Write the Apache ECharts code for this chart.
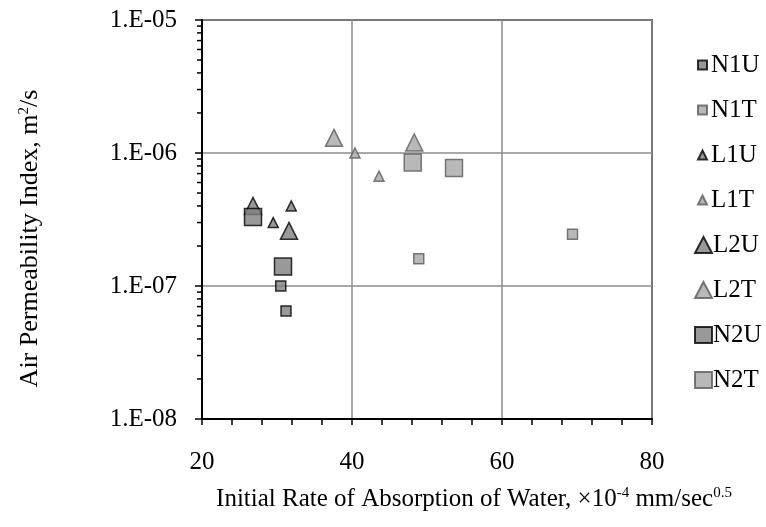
<!DOCTYPE html>
<html lang="en">
<head>
<meta charset="UTF-8">
<title>Air Permeability vs Absorption</title>
<script src="https://cdn.jsdelivr.net/npm/echarts@6/dist/echarts.min.js"></script>
<style>
  html, body { margin: 0; padding: 0; background: #fff; }
  #cc { width: 766px; height: 527px; }
</style>
</head>
<body>
<div id="cc"></div>
<script>
// data: [absorption, permeability]
var N1U = [[30.5, 1.0e-7], [31.2, 6.5e-8]];
var N1T = [[48.9, 1.6e-7], [69.4, 2.45e-7]];
var L1U = [[29.5, 3.0e-7], [31.9, 4.0e-7]];
var L1T = [[40.4, 1.0e-6], [43.6, 6.7e-7]];
var L2U = [[26.8, 4.0e-7], [31.6, 2.6e-7]];
var L2T = [[37.6, 1.3e-6], [48.3, 1.2e-6]];
var N2U = [[26.8, 3.3e-7], [30.8, 1.4e-7]];
var N2T = [[48.1, 8.5e-7], [53.6, 7.7e-7]];

var xTicks = [20, 40, 60, 80];
var yMinor = [2e-8, 3e-8, 4e-8, 5e-8, 6e-8, 7e-8, 8e-8, 9e-8,
              2e-7, 3e-7, 4e-7, 5e-7, 6e-7, 7e-7, 8e-7, 9e-7,
              2e-6, 3e-6, 4e-6, 5e-6, 6e-6, 7e-6, 8e-6, 9e-6];

var FONT = '"Liberation Serif", "Times New Roman", serif';
var DARK = { color: '#808080', borderColor: '#000', borderWidth: 1.5 };
var LIGHT = { color: '#a8a8a8', borderColor: '#5a5a5a', borderWidth: 1.5 };

var defs = [
    { name: 'N1U', data: N1U, symbol: 'rect', size: 10, style: DARK },
    { name: 'N1T', data: N1T, symbol: 'rect', size: 10, style: LIGHT },
    { name: 'L1U', data: L1U, symbol: 'triangle', size: 10, style: DARK },
    { name: 'L1T', data: L1T, symbol: 'triangle', size: 10, style: LIGHT },
    { name: 'L2U', data: L2U, symbol: 'triangle', size: 17, style: DARK },
    { name: 'L2T', data: L2T, symbol: 'triangle', size: 17, style: LIGHT },
    { name: 'N2U', data: N2U, symbol: 'rect', size: 17, style: DARK },
    { name: 'N2T', data: N2T, symbol: 'rect', size: 17, style: LIGHT }
];

var series = defs.map(function (d) {
    return {
        name: d.name,
        type: 'scatter',
        symbol: d.symbol,
        symbolSize: d.size,
        itemStyle: d.style,
        data: d.data,
        z: 3
    };
});

// log-spaced minor ticks on the y axis
series.push({
    type: 'custom',
    silent: true,
    clip: false,
    data: yMinor.map(function (v) { return [20, v]; }),
    renderItem: function (params, api) {
        var p = api.coord([api.value(0), api.value(1)]);
        return {
            type: 'line',
            shape: { x1: p[0] - 5, y1: p[1], x2: p[0], y2: p[1] },
            style: { stroke: '#000', lineWidth: 1.5 }
        };
    },
    z: 4
});

var legends = defs.map(function (d, i) {
    var big = d.size > 12;
    return {
        data: [{ name: d.name, icon: d.symbol }],
        left: big ? 694 : 697,
        top: 65 + i * 45 - 13,
        padding: 0,
        itemWidth: big ? 17 : 9,
        itemHeight: big ? 16 : 9,
        selectedMode: false,
        textStyle: {
            fontFamily: FONT, fontSize: 25, lineHeight: 26, color: '#000',
            padding: [0, 0, 0, big ? -4 : -1]
        }
    };
});

var chart = echarts.init(document.getElementById('cc'));
chart.setOption({
    animation: false,
    backgroundColor: '#fff',
    legend: legends,
    grid: {
        left: 202, right: 114, top: 20, bottom: 108,
        show: true, borderColor: '#000', borderWidth: 1.5
    },
    xAxis: {
        type: 'value',
        min: 20, max: 80, interval: 20,
        name: '{a|Initial Rate of Absorption of Water, ×10}{s|-4}{a| mm/sec}{s|0.5}',
        nameLocation: 'middle',
        nameGap: 67,
        nameTextStyle: {
            padding: [0, 0, 0, 94],
            rich: {
                a: { fontFamily: FONT, fontSize: 25, color: '#000' },
                s: { fontFamily: FONT, fontSize: 15, color: '#000', padding: [0, 0, 11, 0] }
            }
        },
        axisLine: { lineStyle: { color: '#000', width: 2 } },
        axisTick: { length: 6, lineStyle: { color: '#000', width: 1.5 } },
        minorTick: { show: true, splitNumber: 5, length: 6, lineStyle: { color: '#000', width: 1.5 } },
        splitLine: { lineStyle: { color: '#8c8c8c', width: 1.5 } },
        axisLabel: {
            margin: 31,
            fontFamily: FONT, fontSize: 25, color: '#000',
            formatter: function (v) { return xTicks.indexOf(v) >= 0 ? String(v) : ''; }
        }
    },
    yAxis: {
        type: 'log',
        logBase: 10,
        min: 1e-8, max: 1e-5,
        name: '{a|Air Permeability Index, m}{s|2}{a|/s}',
        nameLocation: 'middle',
        nameRotate: 90,
        nameGap: 159,
        nameTextStyle: {
            padding: [0, 38, 0, 0],
            rich: {
                a: { fontFamily: FONT, fontSize: 26, color: '#000' },
                s: { fontFamily: FONT, fontSize: 15, color: '#000', padding: [0, 0, 11, 0] }
            }
        },
        axisLine: { show: true, lineStyle: { color: '#000', width: 2 } },
        axisTick: { show: true, length: 7, lineStyle: { color: '#000', width: 1.5 } },
        splitLine: { lineStyle: { color: '#8c8c8c', width: 1.5 } },
        axisLabel: {
            margin: 25,
            fontFamily: FONT, fontSize: 25, color: '#000',
            formatter: function (v) {
                var e = Math.round(Math.log10(v));
                var n = Math.abs(e);
                return '1.E-' + (n < 10 ? '0' + n : n);
            }
        }
    },
    series: series
});
</script>
</body>
</html>
